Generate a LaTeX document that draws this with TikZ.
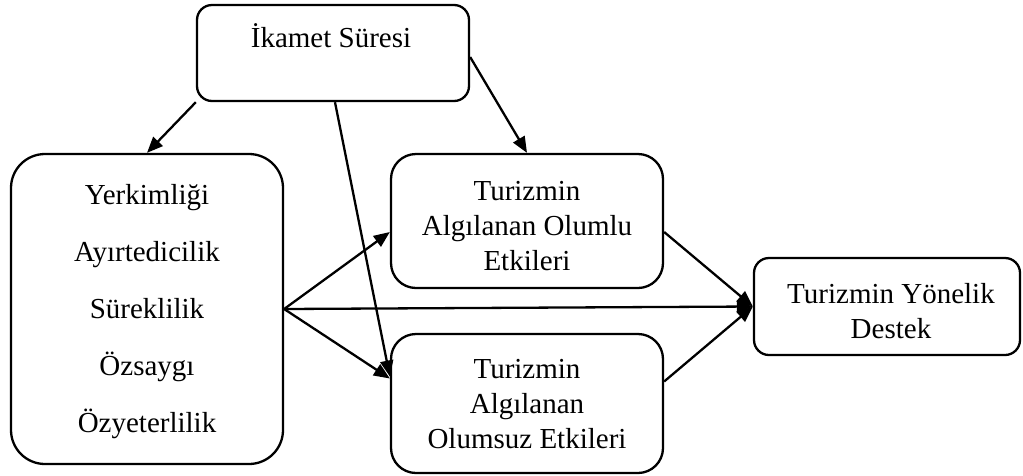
\documentclass[tikz,border=0pt]{standalone}
\usepackage{fontspec}
\setmainfont{Liberation Serif}
\usetikzlibrary{arrows.meta,calc}
\begin{document}
\begin{tikzpicture}[x=1pt,y=-1pt,
  box/.style={draw,line width=2.3pt,inner sep=0pt,fill=none},
  txt/.style={align=center,inner sep=0pt,font=\fontsize{29}{35}\selectfont},
  conn/.style={line width=2.3pt,-{Triangle[length=16pt,width=13pt]}}]
\fill[white] (0,0) rectangle (1023,475);
\useasboundingbox (0,0) rectangle (1023,475);
% boxes
\node[box,rounded corners=15pt,minimum width=272pt,minimum height=96pt] (ik) at (333,53) {};
\node[box,rounded corners=34pt,minimum width=272pt,minimum height=310pt] (lb) at (147,309) {};
\node[box,rounded corners=25pt,minimum width=272pt,minimum height=134pt] (pos) at (527,221) {};
\node[box,rounded corners=25pt,minimum width=272pt,minimum height=139pt] (neg) at (527,403.5) {};
\node[box,rounded corners=15pt,minimum width=266pt,minimum height=97pt] (sup) at (887,306.5) {};
% texts
\node[txt,anchor=base] (ikt) at (331,47) {İkamet Süresi};
\node[txt,font=\fontsize{29}{57}\selectfont] (lbt) at (147,312) {Yerkimliği\\Ayırtedicilik\\Süreklilik\\Özsaygı\\Özyeterlilik};
\node[txt] (post) at (527,226) {Turizmin\\Algılanan Olumlu\\Etkileri};
\node[txt] (negt) at (527,404) {Turizmin\\Algılanan\\Olumsuz Etkileri};
\node[txt] (supt) at (891,311) {Turizmin Yönelik\\Destek};
% connectors
\draw[conn] (ik.south west) -- (lb.north);
\draw[conn] ($(ik.south)+(2,0)$) -- ($(neg.west)+(0,-27)$);
\draw[conn] ($(ik.east)+(0,4)$) -- (pos.north);
\draw[conn] (lb.east) -- ($(pos.west)+(0,11)$);
\draw[conn] (lb.east) -- ($(neg.west)+(0,-25)$);
\draw[conn] (lb.east) -- (sup.west);
\draw[conn] ($(pos.east)+(0,11)$) -- (sup.west);
\draw[conn] ($(neg.east)+(0,-22)$) -- (sup.west);
\end{tikzpicture}
\end{document}
